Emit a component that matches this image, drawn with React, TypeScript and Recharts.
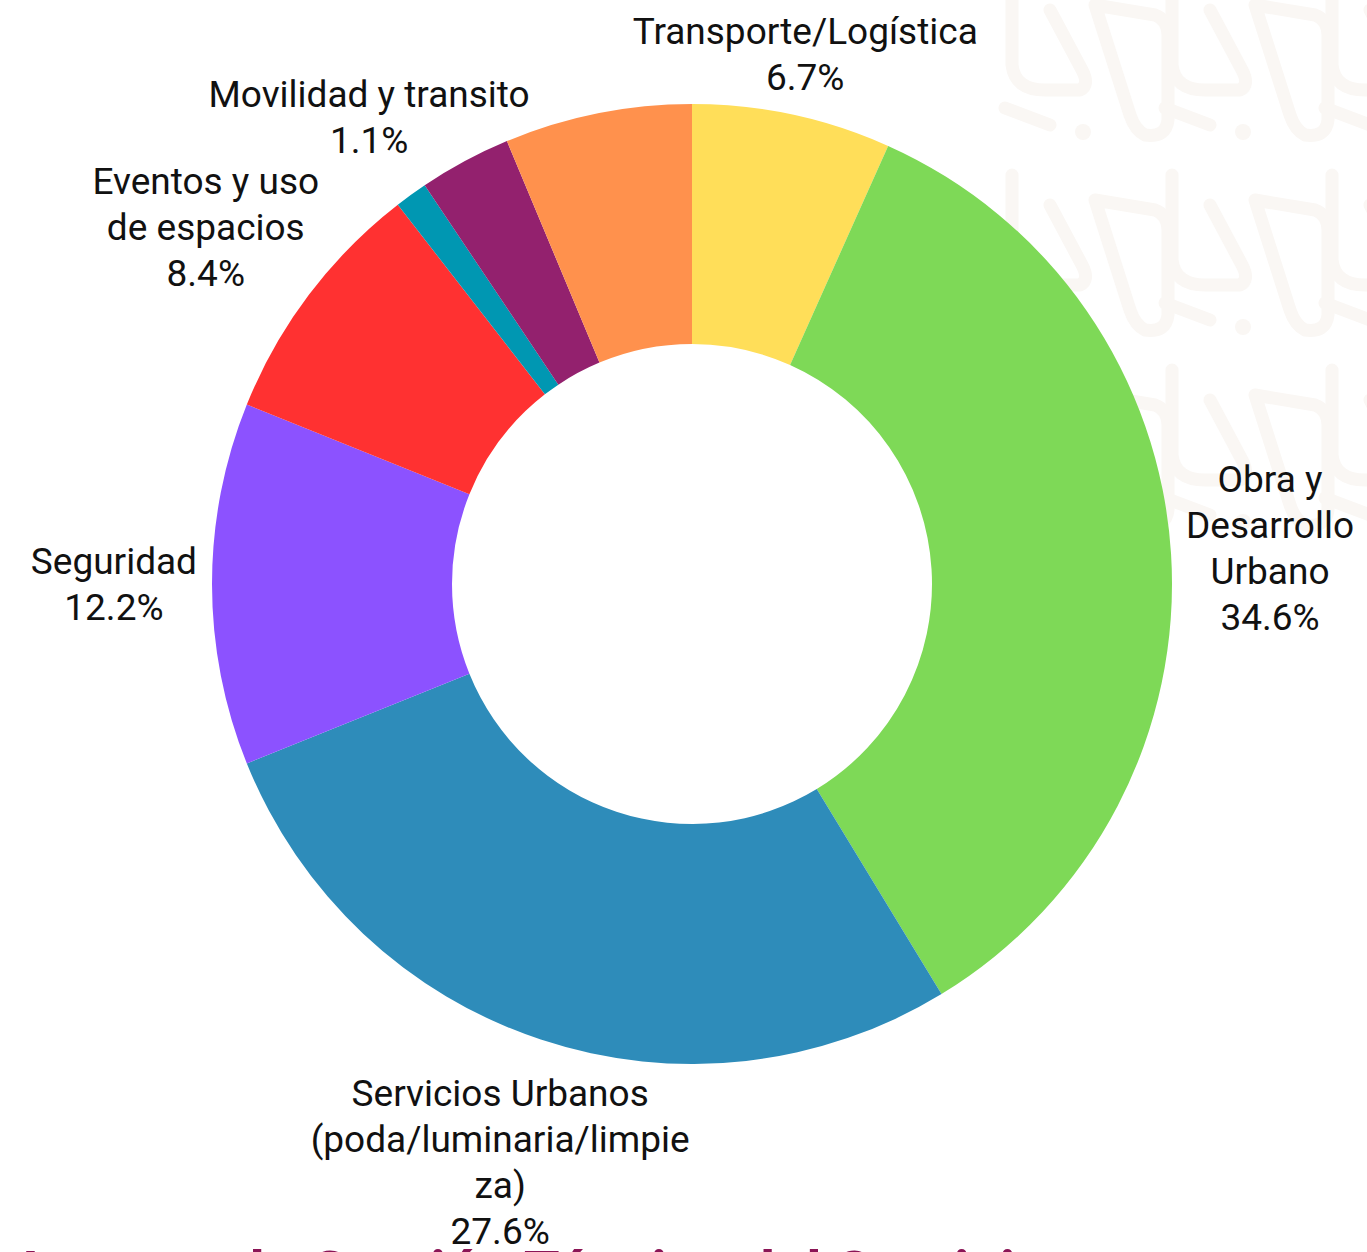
import { PieChart, Pie, Cell } from 'recharts'

// slices clockwise from 12 o'clock
const categories = [
  'Transporte/Logística',
  'Obra y Desarrollo Urbano',
  'Servicios Urbanos (poda/luminaria/limpieza)',
  'Seguridad',
  'Eventos y uso de espacios',
  'Movilidad y transito',
  'Otro 1',
  'Otro 2',
]
const values = [6.7, 34.6, 27.6, 12.2, 8.4, 1.1, 3.1, 6.3]
const colors = ['#FFDE59', '#7ED957', '#2E8CBA', '#8C52FF', '#FF3131', '#0097B2', '#93216E', '#FF914D']
// wrapped label text as it appears outside the ring; empty = no label
const labelLines = [
  ['Transporte/Logística'],
  ['Obra y', 'Desarrollo', 'Urbano'],
  ['Servicios Urbanos', '(poda/luminaria/limpie', 'za)'],
  ['Seguridad'],
  ['Eventos y uso', 'de espacios'],
  ['Movilidad y transito'],
  [],
  [],
]
const title = 'Imagen de Gestión Técnica del Servicio'

const data = categories.map((name, i) => ({ name, value: values[i] }))

const RAD = Math.PI / 180
const FONT = 37
const LH = 46
const GAP = 15

let ctx: CanvasRenderingContext2D | null = null
function textWidth(s: string) {
  if (!ctx) ctx = document.createElement('canvas').getContext('2d')
  if (!ctx) return s.length * FONT * 0.5
  ctx.font = `${FONT}px Roboto`
  return ctx.measureText(s).width
}

type Box = { lines: string[]; x: number; y: number; h: number; left: boolean } | null

// place every label box along its slice's mid ray, then push apart boxes that collide
function layoutLabels(cx: number, cy: number, outerRadius: number): Box[] {
  const total = values.reduce((a, b) => a + b, 0)
  let acc = 0
  const boxes: Box[] = values.map((v, i) => {
    const mid = 90 - ((acc + v / 2) / total) * 360
    acc += v
    if (!labelLines[i].length) return null
    const lines = [...labelLines[i], `${v.toFixed(1)}%`]
    const w = Math.max(...lines.map(textWidth))
    const h = lines.length * LH
    const ux = Math.cos(mid * RAD)
    const uy = -Math.sin(mid * RAD)
    const tx = Math.abs(ux) > 1e-6 ? w / 2 / Math.abs(ux) : Infinity
    const ty = Math.abs(uy) > 1e-6 ? h / 2 / Math.abs(uy) : Infinity
    // labels under the ring sit a little further out
    const gap = GAP + (uy > 0 ? 18 * uy : 0)
    const d = outerRadius + gap + Math.min(tx, ty)
    return { lines, x: cx + ux * d, y: cy + uy * d, h, left: ux < 0 }
  })
  for (const side of [true, false]) {
    const list = boxes.filter((b) => b && b.left === side).sort((a, b) => a!.y - b!.y) as NonNullable<Box>[]
    for (let k = 1; k < list.length; k++) {
      const a = list[k - 1]
      const b = list[k]
      const overlap = a.y + a.h / 2 - (b.y - b.h / 2) - 5
      if (overlap > 0) {
        a.y -= (overlap * 2) / 3
        b.y += overlap / 3
      }
    }
  }
  return boxes
}

let boxes: Box[] | null = null

function renderLabel(props: any) {
  const { cx, cy, outerRadius, index } = props
  if (!boxes) boxes = layoutLabels(cx, cy, outerRadius)
  const b = boxes[index]
  if (!b) return null
  return (
    <text key={`lbl-${index}`} textAnchor="middle" fontFamily="Roboto" fontSize={FONT} fill="#111">
      {b.lines.map((l, i) => (
        <tspan key={i} x={b.x} y={b.y - b.h / 2 + LH * (i + 0.5) + FONT * 0.36}>{l}</tspan>
      ))}
    </text>
  )
}

// faint decorative pattern tile in the upper right corner
const tile = [
  'M12 -10 L12 75 Q15 100 45 100 L80 100 Q90 95 82 80 L50 20',
  'M95 15 L155 25 Q168 30 168 45 L168 130 Q166 148 145 145 Q135 140 130 125 Z',
  'M5 118 L50 135',
]
const tileCols = [1000, 1160, 1320]
const tileRows = [-10, 185, 380]
const PATTERN = '#FAF7F4'

export default function App() {
  boxes = null
  return (
    <div style={{ position: 'absolute', left: 0, top: 0, width: 1367, height: 1252, overflow: 'hidden', background: '#fff' }}>
      <svg width={1367} height={1252} style={{ position: 'absolute', left: 0, top: 0 }}>
        {tileCols.map((tx) =>
          tileRows.map((ty) => (
            <g key={`${tx}-${ty}`} transform={`translate(${tx},${ty})`} stroke={PATTERN} strokeWidth={13} fill="none" strokeLinecap="round" strokeLinejoin="round">
              {tile.map((p, i) => (
                <path key={i} d={p} />
              ))}
              <circle cx={83} cy={142} r={8} fill={PATTERN} stroke="none" />
            </g>
          ))
        )}
      </svg>
      <div style={{ position: 'absolute', left: 0, top: 0 }}>
        <PieChart width={1367} height={1252} margin={{ top: 0, right: 0, bottom: 0, left: 0 }}>
          <Pie
            data={data}
            dataKey="value"
            nameKey="name"
            cx={692}
            cy={584}
            innerRadius={240}
            outerRadius={480}
            startAngle={90}
            endAngle={-270}
            stroke="none"
            label={renderLabel}
            labelLine={false}
            isAnimationActive={false}
          >
            {data.map((d, i) => (
              <Cell key={d.name} fill={colors[i]} />
            ))}
          </Pie>
        </PieChart>
      </div>
      <svg width={1367} height={1252} style={{ position: 'absolute', left: 0, top: 0, pointerEvents: 'none' }}>
        <text x={22} y={1292} fontFamily="Roboto" fontWeight={700} fontSize={58} fill="#8B1556">{title}</text>
      </svg>
    </div>
  )
}
